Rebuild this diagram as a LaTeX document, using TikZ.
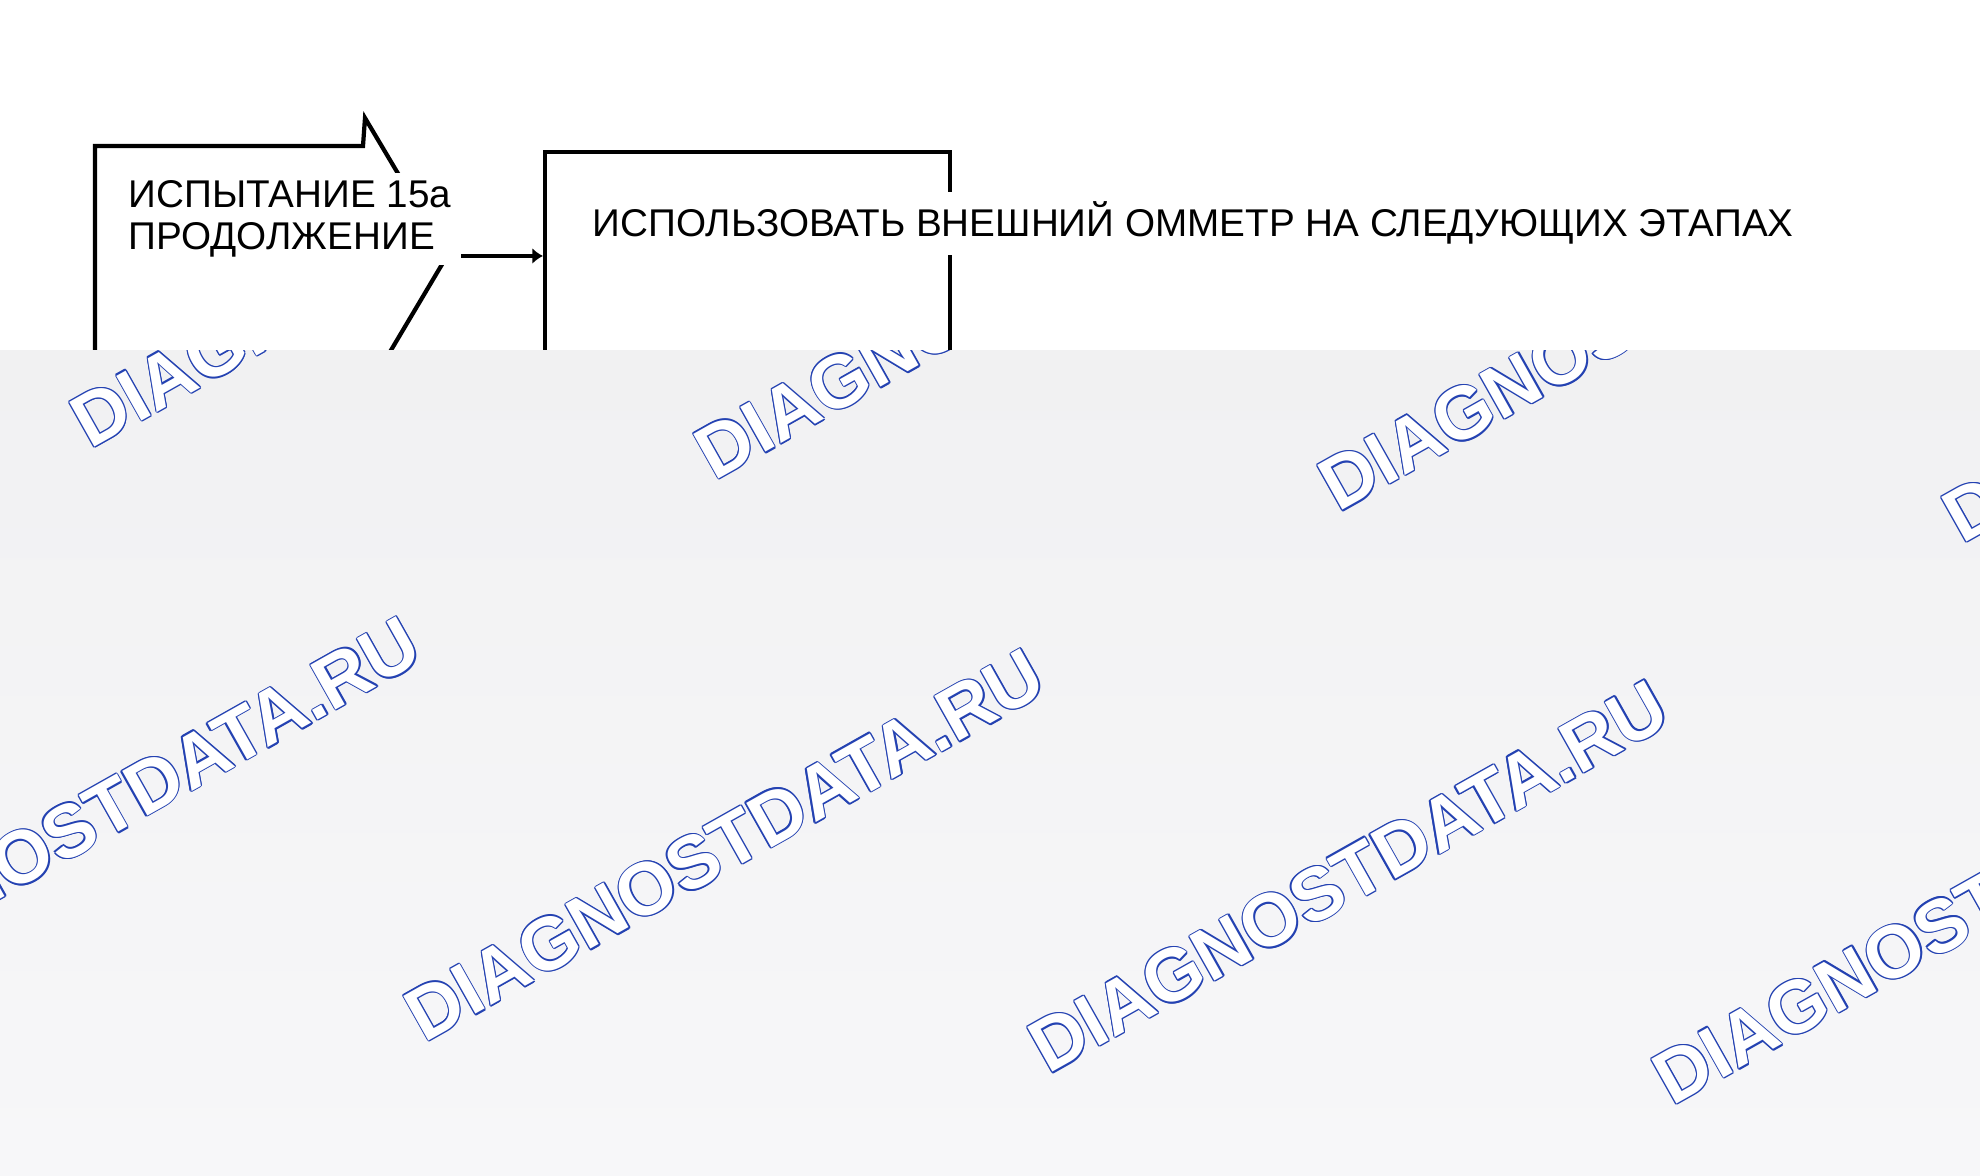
\documentclass[tikz,border=0pt]{standalone}
\usepackage{fontspec}
\setmainfont{Liberation Sans}
\usetikzlibrary{arrows.meta}

\definecolor{wmblue}{RGB}{36,66,178}
\definecolor{greytop}{RGB}{241,241,242}
\definecolor{greymid}{RGB}{230,230,232}
\definecolor{greybot}{RGB}{247,247,249}

\tikzset{
  outline/.style={line width=1.2pt},
  label/.style={inner sep=0.1cm, fill=white, font=\fontsize{11pt}{11.95pt}\selectfont},
  wmark/.style={anchor=base west, inner sep=0pt, rotate=29.4,
    font=\bfseries\fontsize{21.2pt}{24pt}\selectfont},
}
\newcommand{\wmtext}{DIAGNOSTDATA.RU}

\begin{document}
\begin{tikzpicture}
  \useasboundingbox (0,0) rectangle (19.8,11.76);
  \fill[white] (0,0) rectangle (19.8,11.76);

  % box and arrow shaped block
  \node[outline, draw, minimum width=4.05cm, minimum height=2.1cm, anchor=north west] (meter) at (5.43,10.26) {};
  \coordinate (apex) at (4.47,9.2);
  \draw[outline, line join=miter] (0.95,8.1) -- (0.95,10.3) -- (3.63,10.3) -- (3.65,10.58)
    -- (apex) -- (3.65,7.82) -- (3.63,8.1) -- cycle;
  \draw[outline, -{Latex[length=3pt,width=4.5pt]}] (apex) -- (apex -| meter.west);

  \node[label, anchor=north west, align=left, inner ysep=0.08cm] (test) at (1.18,10.04) {ИСПЫТАНИЕ 15а\\ПРОДОЛЖЕНИЕ};
  \node[label, anchor=base west] (hint) at (5.82,9.39) {ИСПОЛЬЗОВАТЬ ВНЕШНИЙ ОММЕТР НА СЛЕДУЮЩИХ ЭТАПАХ};

  % grey lower part with the watermark
  \shade[top color=greytop, middle color=greymid, bottom color=greybot] (0,0) rectangle (19.8,8.25);
  \begin{scope}
    \clip (0,0) rectangle (19.8,8.25);
    \foreach \j in {0,1}
      \foreach \i in {0,...,3} {
        \foreach \a in {0,45,...,315}
          \node[wmark, text=wmblue, shift={(\a:0.4pt)}] at ({0.9+6.24*\i-2.9*\j},{7.26-0.316*\i-5.62*\j}) {\wmtext};
        \node[wmark, text=white] at ({0.9+6.24*\i-2.9*\j},{7.26-0.316*\i-5.62*\j}) {\wmtext};
      }
  \end{scope}
\end{tikzpicture}
\end{document}
